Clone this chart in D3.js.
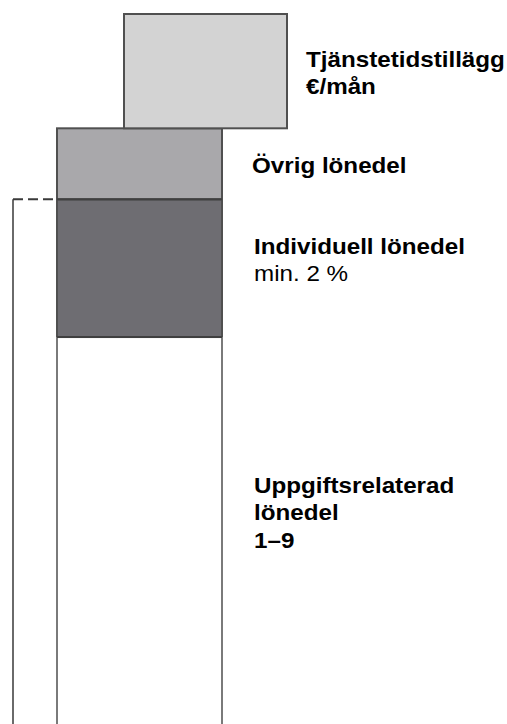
<!DOCTYPE html>
<html>
<head>
<meta charset="utf-8">
<script src="https://cdn.jsdelivr.net/npm/d3@7"></script>
<style>
  html, body { margin: 0; padding: 0; background: #fff; }
  svg { display: block; }
  text { font-family: "Liberation Sans", Arial, Helvetica, sans-serif; fill: #000; }
</style>
</head>
<body>
<div id="chart"></div>
<script>
// Salary components, stacked from the bottom (relative share of the column height)
const parts = ['Uppgiftsrelaterad', 'Individuell', 'Övrig', 'Tjänstetidstillägg'];
const shares = [54.5, 19.4, 10.0, 16.1];
const fills = ['#ffffff', '#6e6d72', '#a9a8ab', '#d3d3d3'];
// which column each part sits in (the supplement is shifted right)
const columns = ['main', 'main', 'main', 'shift'];

// labels: [bold lines, regular lines]
const labelBold = [
  ['Uppgiftsrelaterad', 'lönedel', '1–9'],
  ['Individuell lönedel'],
  ['Övrig lönedel'],
  ['Tjänstetidstillägg', '€/mån']
];
const labelNormal = [[], ['min. 2 %'], [], []];

const width = 507;
const height = 724;

const svg = d3.select('#chart').append('svg')
  .attr('width', width)
  .attr('height', height);

const y = d3.scaleLinear()
  .domain([0, d3.sum(shares)])
  .range([height, 14]);

const x = d3.scaleLinear()
  .domain([0, 100])
  .range([0, width]);

// column extents in x-domain units
const colX = {
  main: [x.invert(57), x.invert(222)],
  shift: [x.invert(124), x.invert(287)]
};

const stack = d3.cumsum(shares);
const segs = parts.map((p, i) => ({
  name: p,
  y0: i === 0 ? 0 : stack[i - 1],
  y1: stack[i],
  fill: fills[i],
  col: columns[i],
  bold: labelBold[i],
  normal: labelNormal[i]
}));

// bracket for base salary (up to top of the individual part)
const baseTop = y(stack[1]);
svg.append('line')
  .attr('x1', x(x.invert(13))).attr('x2', x(x.invert(13)))
  .attr('y1', baseTop).attr('y2', height)
  .attr('stroke', '#6a6a6a').attr('stroke-width', 2);
svg.append('line')
  .attr('x1', 13).attr('x2', x(colX.main[0]))
  .attr('y1', baseTop).attr('y2', baseTop)
  .attr('stroke', '#3a3a3a').attr('stroke-width', 2)
  .attr('stroke-dasharray', '10,5');

// boxes
const g = svg.append('g');
g.selectAll('rect.seg')
  .data(segs.filter(d => d.name !== 'Uppgiftsrelaterad'))
  .enter()
  .append('rect')
  .attr('class', 'seg')
  .attr('x', d => x(colX[d.col][0]))
  .attr('width', d => x(colX[d.col][1]) - x(colX[d.col][0]))
  .attr('y', d => y(d.y1))
  .attr('height', d => y(d.y0) - y(d.y1))
  .attr('fill', d => d.fill)
  .attr('stroke', '#505050')
  .attr('stroke-width', 2);

// open-ended bottom part: only side lines
const low = segs[0];
[colX.main[0], colX.main[1]].forEach(v => {
  g.append('line')
    .attr('x1', x(v)).attr('x2', x(v))
    .attr('y1', y(low.y1)).attr('y2', height)
    .attr('stroke', '#7a7a7a').attr('stroke-width', 2);
});
g.append('line')
  .attr('x1', x(colX.main[0])).attr('x2', x(colX.main[1]))
  .attr('y1', y(low.y1)).attr('y2', y(low.y1))
  .attr('stroke', '#3f3f3f').attr('stroke-width', 2);
g.append('line')
  .attr('x1', x(colX.main[0])).attr('x2', x(colX.main[1]))
  .attr('y1', y(stack[1])).attr('y2', y(stack[1]))
  .attr('stroke', '#3f3f3f').attr('stroke-width', 2);

// labels
const labelPos = [
  { x: 254, y: 493 },
  { x: 254, y: 254 },
  { x: 252, y: 173 },
  { x: 306, y: 67 }
];
const lineH = 27.5;
segs.forEach((d, i) => {
  const t = svg.append('g')
    .attr('transform', `translate(${labelPos[i].x},${labelPos[i].y}) scale(1.1,1)`);
  const lines = d.bold.map(s => ({ s, w: 'bold' }))
    .concat(d.normal.map(s => ({ s, w: 'normal' })));
  lines.forEach((l, j) => {
    t.append('text')
      .attr('y', j * lineH)
      .attr('font-size', 22)
      .attr('font-weight', l.w)
      .text(l.s);
  });
});
</script>
</body>
</html>
